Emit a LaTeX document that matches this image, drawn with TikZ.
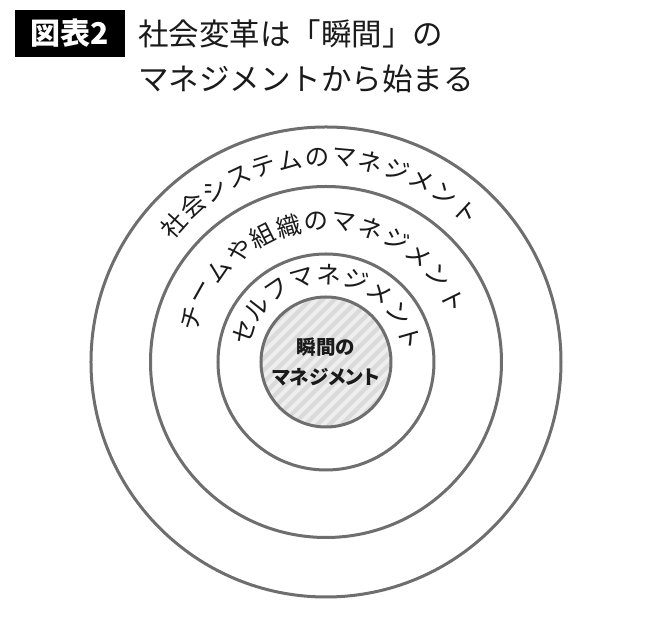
\documentclass[tikz,border=0pt]{standalone}
\usepackage{xcolor}
\usepackage{tikz}
\usepackage{fontspec}
\newfontfamily\jpfont{Noto Sans CJK JP}
\newfontfamily\jpfontp{Noto Sans CJK JP}[RawFeature=+palt]
\definecolor{ringgray}{RGB}{110, 110, 110}
\definecolor{stripedark}{RGB}{218, 218, 218}
\definecolor{stripelight}{RGB}{238, 238, 238}
\definecolor{inkblack}{RGB}{26, 26, 26}
\usetikzlibrary{positioning, calc}

\tikzset{
  ring/.style={draw=ringgray, line width=3pt},
  ringchar/.style={inner sep=0pt, text=inkblack, font=\jpfont\fontsize{24.5}{24.5}\selectfont},
  titletext/.style={inner sep=0pt, text=inkblack, font=\jpfont\fontsize{30.5}{30.5}\selectfont},
  core/.style={circle, draw=ringgray, line width=3pt, fill=stripedark, minimum size=130pt,
    inner sep=0pt, align=center, text=inkblack, font=\jpfontp\bfseries\fontsize{19.5}{29.5}\selectfont,
    path picture={
      \foreach \k in {-14,...,14}
        \draw[stripelight, line width=4pt] ($(path picture bounding box.center)+(\k*12-80,-80)$) -- ++(160,160);
    }},
}

\begin{document}
\begin{tikzpicture}[x=1pt, y=1pt]
    \useasboundingbox[fill=white] (-326,-266) rectangle (344,362);
    \coordinate (c) at (0,0);

    % heading
    \node[fill=black, text=white, font=\jpfont\bfseries\fontsize{30}{30}\selectfont,
          minimum width=110pt, minimum height=47pt, inner sep=0pt] (tag) at (-256,328.5) {図表2};
    \node[titletext, right=13pt of tag] (title1) {社会変革は「瞬間」の};
    \node[titletext, anchor=west] (title2) at ($(title1.west)+(0,-45.5)$) {マネジメントから始まる};

    % rings
    \draw[ring] (c) circle (235pt);
    \draw[ring] (c) circle (175.5pt);
    \draw[ring] (c) circle (108pt);
    \node[core] (core) at (c) {瞬間の\\マネジメント};

    % text along the rings
    \foreach \ch [count=\i from 0] in {社,会,シ,ス,テ,ム,の,マ,ネ,ジ,メ,ン,ト}
        \node[ringchar, rotate={48-7.58*\i}] (outer-\i) at ({138-7.58*\i}:205pt) {\ch};
    \foreach \ch [count=\i from 0] in {チ,ー,ム,や,組,織,の,マ,ネ,ジ,メ,ン,ト}
        \node[ringchar, rotate={72-11.33*\i}] (middle-\i) at ({162-11.33*\i}:141pt) {\ch};
    \foreach \ch [count=\i from 0] in {セ,ル,フ,マ,ネ,ジ,メ,ン,ト}
        \node[ringchar, rotate={70-18*\i}] (inner-\i) at ({160-18*\i}:87pt) {\ch};
\end{tikzpicture}
\end{document}
